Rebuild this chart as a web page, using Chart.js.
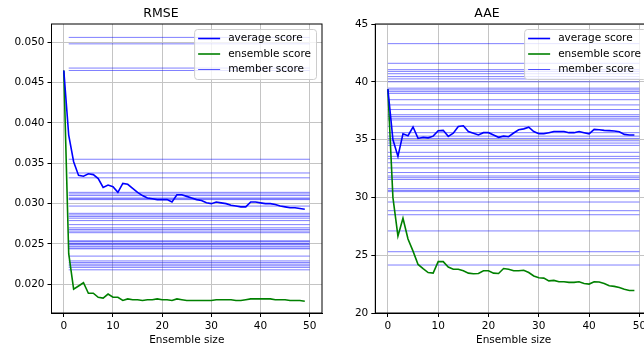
<!DOCTYPE html>
<html lang="en">
<head>
    <meta charset="UTF-8">
    <title>RMSE / AAE vs ensemble size</title>
    <script src="https://cdn.jsdelivr.net/npm/chart.js"></script>
    <style>
        html, body { margin: 0; padding: 0; overflow: hidden; background: #fff; }
        #wrap { position: relative; width: 644px; height: 349px; overflow: hidden; }
        canvas { position: absolute; top: 0; }
        #rmseChart { left: 0; }
        #aaeChart { left: 322px; }
    </style>
</head>
<body>
<div id="wrap">
    <canvas id="rmseChart" width="323" height="349"></canvas>
    <canvas id="aaeChart" width="330" height="349"></canvas>
</div>

<script>
    // ensemble sizes (x axis)
    const sizes = [0, 1, 2, 3, 4, 5, 6, 7, 8, 9, 10, 11, 12, 13, 14, 15, 16, 17, 18, 19,
                   20, 21, 22, 23, 24, 25, 26, 27, 28, 29, 30, 31, 32, 33, 34, 35, 36, 37, 38, 39,
                   40, 41, 42, 43, 44, 45, 46, 47, 48, 49];

    // RMSE
    const rmseAverage = [0.0465, 0.0385, 0.0352, 0.0335, 0.0334, 0.0337, 0.0336, 0.0331, 0.0320, 0.0323,
                         0.0321, 0.0314, 0.0325, 0.0324, 0.0319, 0.0314, 0.0310, 0.0307, 0.0306, 0.0305,
                         0.0305, 0.0305, 0.0302, 0.0311, 0.0311, 0.0309, 0.0307, 0.0305, 0.0304, 0.0301,
                         0.0300, 0.0302, 0.0301, 0.0300, 0.0298, 0.0297, 0.0296, 0.0296, 0.0302, 0.0302,
                         0.0301, 0.0300, 0.0300, 0.0299, 0.0297, 0.0296, 0.0295, 0.0295, 0.0294, 0.0293];
    const rmseEnsemble = [0.0465, 0.0238, 0.0194, 0.0198, 0.0202, 0.0189, 0.0189, 0.0184, 0.0183, 0.0188,
                          0.0184, 0.0184, 0.0180, 0.0182, 0.0181, 0.0181, 0.0180, 0.0181, 0.0181, 0.0182,
                          0.0181, 0.0181, 0.0180, 0.0182, 0.0181, 0.0180, 0.0180, 0.0180, 0.0180, 0.0180,
                          0.0180, 0.0181, 0.0181, 0.0181, 0.0181, 0.0180, 0.0180, 0.0181, 0.0182, 0.0182,
                          0.0182, 0.0182, 0.0182, 0.0181, 0.0181, 0.0181, 0.0180, 0.0180, 0.0180, 0.0179];
    const rmseMembers = [0.0506, 0.0498, 0.0468, 0.0465, 0.0355, 0.0338, 0.0332, 0.0314, 0.0312, 0.0310,
                         0.0307, 0.0306, 0.0305, 0.0297, 0.0288, 0.0286, 0.0284, 0.0282, 0.0279, 0.0274,
                         0.0270, 0.0268, 0.0266, 0.0264, 0.0254, 0.0253, 0.0251, 0.0250, 0.0249, 0.0247,
                         0.0245, 0.0244, 0.0235, 0.0229, 0.0227, 0.0225, 0.0223, 0.0221, 0.0218];
    const rmseMemberSpan = [1, 50];

    // AAE
    const aaeAverage = [39.36, 35.0, 33.55, 35.5, 35.34, 36.09, 35.1, 35.2, 35.15, 35.3,
                        35.77, 35.8, 35.28, 35.55, 36.14, 36.2, 35.7, 35.55, 35.4, 35.6,
                        35.6, 35.4, 35.2, 35.3, 35.25, 35.57, 35.85, 35.93, 36.07, 35.7,
                        35.5, 35.5, 35.6, 35.7, 35.7, 35.7, 35.6, 35.6, 35.7, 35.6,
                        35.5, 35.88, 35.85, 35.8, 35.78, 35.75, 35.68, 35.45, 35.4, 35.4];
    const aaeEnsemble = [39.36, 30.0, 26.65, 28.2, 26.4, 25.35, 24.2, 23.83, 23.5, 23.45,
                         24.44, 24.44, 23.98, 23.78, 23.78, 23.65, 23.45, 23.4, 23.42, 23.65,
                         23.65, 23.45, 23.42, 23.85, 23.78, 23.65, 23.65, 23.7, 23.5, 23.2,
                         23.05, 23.02, 22.78, 22.82, 22.7, 22.7, 22.65, 22.65, 22.7, 22.55,
                         22.5, 22.7, 22.68, 22.55, 22.35, 22.3, 22.2, 22.05, 21.95, 21.95];
    const aaeMembers = [43.3, 41.6, 41.05, 40.9, 40.7, 40.45, 40.25, 40.0, 39.45, 39.3,
                        39.15, 39.0, 38.45, 38.0, 37.6, 37.15, 37.0, 36.85, 36.7, 36.15,
                        35.6, 35.3, 35.1, 34.9, 34.7, 34.5, 33.9, 33.55, 33.35, 33.0,
                        32.55, 32.15, 31.85, 31.7, 31.55, 30.75, 30.6, 30.5, 29.6, 28.85,
                        28.5, 27.1, 25.3, 24.15];
    const aaeMemberSpan = [0, 50];

    const FONT = 'DejaVu Sans';
    const BLUE = '#0000ff';
    const GREEN = '#008000';
    const MEMBER = 'rgba(0, 0, 255, 0.5)';

    // black box around the plot area (matplotlib spines)
    const frame = {
        id: 'frame',
        afterDatasetsDraw(chart) {
            const a = chart.chartArea, ctx = chart.ctx;
            ctx.save();
            ctx.strokeStyle = '#000';
            ctx.lineWidth = 1;
            ctx.strokeRect(a.left, a.top, a.right - a.left, a.bottom - a.top);
            ctx.restore();
        }
    };

    // legend drawn inside the plot, upper right
    const boxLegend = {
        id: 'boxLegend',
        afterDraw(chart) {
            const a = chart.chartArea, ctx = chart.ctx;
            const items = chart.data.datasets.filter(d => d.label);
            ctx.save();
            ctx.font = '10.5px "' + FONT + '"';
            const tw = Math.max(...items.map(d => ctx.measureText(d.label).width));
            const w = 34 + tw + 5, h = 50;
            const x = a.right - 6 - w, y = a.top + 5;
            ctx.beginPath();
            ctx.roundRect(x + 0.5, y + 0.5, w, h, 3);
            ctx.fillStyle = 'rgba(255,255,255,0.8)';
            ctx.fill();
            ctx.strokeStyle = '#cccccc';
            ctx.lineWidth = 1;
            ctx.stroke();
            items.forEach((d, i) => {
                const ly = y + 9.5 + i * 15.5;
                ctx.beginPath();
                ctx.moveTo(x + 4, ly);
                ctx.lineTo(x + 26, ly);
                ctx.strokeStyle = d.legendColor || d.borderColor;
                ctx.lineWidth = d.borderWidth;
                ctx.stroke();
                ctx.fillStyle = '#000';
                ctx.textBaseline = 'middle';
                ctx.fillText(d.label, x + 34, ly);
            });
            ctx.restore();
        }
    };

    function buildDatasets(avg, ens, members, span) {
        const sets = [
            { label: 'average score', data: sizes.map((s, i) => ({ x: s, y: avg[i] })),
              borderColor: BLUE, borderWidth: 1.6 },
            { label: 'ensemble score', data: sizes.map((s, i) => ({ x: s, y: ens[i] })),
              borderColor: GREEN, borderWidth: 1.6 }
        ];
        members.forEach((v, i) => {
            sets.push({
                label: i === 0 ? 'member score' : undefined,
                data: [{ x: span[0], y: v }, { x: span[1], y: v }],
                borderColor: MEMBER, legendColor: 'rgba(0,0,255,0.65)', borderWidth: 1
            });
        });
        sets.forEach(s => { s.pointRadius = 0; s.tension = 0; s.fill = false; });
        return sets;
    }

    function makeChart(id, title, datasets, yOpts, yWidth, padRight) {
        return new Chart(document.getElementById(id), {
            type: 'line',
            data: { datasets: datasets },
            options: {
                responsive: false,
                animation: false,
                layout: { padding: { left: 0, right: padRight, top: 0, bottom: 0 } },
                plugins: {
                    legend: { display: false },
                    tooltip: { enabled: false },
                    title: {
                        display: true, text: title, color: '#000',
                        font: { family: FONT, size: 12.5, weight: 'normal' },
                        padding: { top: 6, bottom: 3 }
                    }
                },
                scales: {
                    x: {
                        type: 'linear', min: -2.5, max: 52.5,
                        ticks: { stepSize: 10, includeBounds: false, color: '#000', padding: 3,
                                 font: { family: FONT, size: 10.5 } },
                        grid: { color: '#c4c4c4', lineWidth: 1, tickColor: '#000', tickLength: 4 },
                        border: { color: '#000' },
                        title: { display: true, text: 'Ensemble size', color: '#000',
                                 font: { family: FONT, size: 10.5 }, padding: { top: 1, bottom: 2 } },
                        afterFit(scale) { scale.height = 36; }
                    },
                    y: Object.assign({
                        ticks: { includeBounds: false, color: '#000', padding: 3,
                                 font: { family: FONT, size: 10.5 } },
                        grid: { color: '#c4c4c4', lineWidth: 1, tickColor: '#000', tickLength: 4 },
                        border: { color: '#000' },
                        afterFit(scale) { scale.width = yWidth; }
                    }, yOpts)
                }
            },
            plugins: [frame, boxLegend]
        });
    }

    makeChart('rmseChart', 'RMSE',
        buildDatasets(rmseAverage, rmseEnsemble, rmseMembers, rmseMemberSpan),
        { min: 0.01645, max: 0.05226,
          ticks: { stepSize: 0.005, includeBounds: false, color: '#000', padding: 3,
                   font: { family: FONT, size: 10.5 }, callback: v => v.toFixed(3) } },
        51.5, 1);

    makeChart('aaeChart', 'AAE',
        buildDatasets(aaeAverage, aaeEnsemble, aaeMembers, aaeMemberSpan),
        { min: 20, max: 45,
          ticks: { stepSize: 5, includeBounds: false, color: '#000', padding: 3,
                   font: { family: FONT, size: 10.5 } } },
        53.3, 0);
</script>
</body>
</html>
